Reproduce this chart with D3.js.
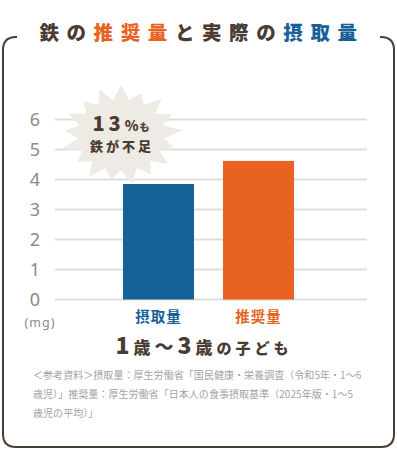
<!DOCTYPE html>
<html><head><meta charset="utf-8">
<script src="https://cdn.jsdelivr.net/npm/d3@7"></script>
<style>
html,body{margin:0;padding:0;background:#fff;}
svg{display:block;}
</style></head>
<body>
<svg id="chart" width="397" height="450"></svg>
<script>
const categories = ["摂取量", "推奨量"];
const values = [3.85, 4.62];
const barColors = ["#176199", "#e86221"];
const yTicks = [0, 1, 2, 3, 4, 5, 6];
const titleParts = [["鉄の", "#4a3b33"], ["推奨量", "#e86221"], ["と実際の", "#4a3b33"], ["摂取量", "#176199"]];
const footLines = [
  "＜参考資料＞摂取量：厚生労働省「国民健康・栄養調査（令和5年・1〜6",
  "歳児）」推奨量：厚生労働省「日本人の食事摂取基準（2025年版・1〜5",
  "歳児の平均）」"
];

const svg = d3.select("#chart");
const font = "'Noto Sans CJK JP', 'Noto Sans', sans-serif";
const dark = "#4a3b33";

// frame
const fx0 = 3, fx1 = 394, fy0 = 37, fy1 = 447, r = 13;
svg.append("path")
  .attr("d", `M17,${fy0} L${fx0 + r},${fy0} Q${fx0},${fy0} ${fx0},${fy0 + r} L${fx0},${fy1 - r} Q${fx0},${fy1} ${fx0 + r},${fy1} L${fx1 - r},${fy1} Q${fx1},${fy1} ${fx1},${fy1 - r} L${fx1},${fy0 + r} Q${fx1},${fy0} ${fx1 - r},${fy0} L380,${fy0}`)
  .attr("fill", "none").attr("stroke", dark).attr("stroke-width", 2);

// title
const title = svg.append("text").attr("x", 202).attr("y", 40)
  .attr("text-anchor", "middle").attr("font-family", font)
  .attr("font-weight", 900).attr("font-size", 19.5).attr("letter-spacing", 7.6);
titleParts.forEach(([t, c]) => title.append("tspan").attr("fill", c).text(t));

// scales
const y = d3.scaleLinear().domain([0, 6]).range([299.5, 119.5]);
const x = d3.scaleBand().domain(categories).range([108.5, 308.5]).paddingInner(0.29).paddingOuter(0.145);

// grid
svg.append("g").selectAll("line").data(yTicks).join("line")
  .attr("x1", 55).attr("x2", 367)
  .attr("y1", d => y(d)).attr("y2", d => y(d))
  .attr("stroke", "#dedede").attr("stroke-width", 2);

// y axis labels
svg.append("g").selectAll("text").data(yTicks).join("text")
  .attr("x", 35).attr("y", d => y(d)).attr("dy", "0.36em")
  .attr("text-anchor", "middle").attr("font-family", "'Noto Sans', sans-serif")
  .attr("font-size", 18).attr("fill", "#8a8a8a").text(d => d);

svg.append("text").attr("x", 40).attr("y", 327).attr("text-anchor", "middle")
  .attr("font-family", "'Noto Sans', sans-serif").attr("font-size", 12.5)
  .attr("fill", "#8a8a8a").attr("letter-spacing", 1).text("(mg)");

// burst
const cx = 121, cy = 135, nSp = 17;
const rOuter = [58, 52, 57, 54, 59, 52, 56, 54, 58, 53, 57, 52, 58, 54, 56, 53, 57];
const pts = [];
for (let i = 0; i < nSp; i++) {
  const a1 = (i / nSp) * 2 * Math.PI - Math.PI / 2;
  const a2 = ((i + 0.5) / nSp) * 2 * Math.PI - Math.PI / 2;
  pts.push([cx + Math.cos(a1) * rOuter[i] * 1.05, cy + Math.sin(a1) * rOuter[i] * 0.86]);
  pts.push([cx + Math.cos(a2) * 41 * 1.05, cy + Math.sin(a2) * 41 * 0.86]);
}
svg.append("path").attr("d", d3.line()(pts) + "Z").attr("fill", "#eeeae4");

const t1 = svg.append("text").attr("x", 121).attr("y", 131).attr("text-anchor", "middle")
  .attr("font-family", font).attr("font-weight", 900).attr("fill", dark);
t1.append("tspan").attr("font-size", 20).attr("letter-spacing", 4).text("13");
t1.append("tspan").attr("font-size", 14).text("%");
t1.append("tspan").attr("font-size", 10).attr("dx", 1).text("も");
svg.append("text").attr("x", 122).attr("y", 151).attr("text-anchor", "middle")
  .attr("font-family", font).attr("font-weight", 900).attr("fill", dark)
  .attr("font-size", 13).attr("letter-spacing", 3).text("鉄が不足");

// bars
svg.append("g").selectAll("rect").data(values).join("rect")
  .attr("x", (d, i) => x(categories[i])).attr("width", x.bandwidth())
  .attr("y", d => y(d)).attr("height", d => y(0) - y(d))
  .attr("fill", (d, i) => barColors[i]);

// category labels
svg.append("g").selectAll("text").data(categories).join("text")
  .attr("x", d => x(d) + x.bandwidth() / 2).attr("y", 322)
  .attr("text-anchor", "middle").attr("font-family", font).attr("font-weight", 700)
  .attr("font-size", 14.5).attr("letter-spacing", 1)
  .attr("fill", (d, i) => barColors[i]).text(d => d);

// subtitle
const st = svg.append("text").attr("x", 198).attr("y", 354).attr("text-anchor", "middle")
  .attr("font-family", font).attr("font-weight", 900).attr("fill", dark);
[["1", 23], ["歳", 17], ["〜", 19], ["3", 23], ["歳", 17], ["の", 15], ["子", 15], ["ど", 15], ["も", 15]]
  .forEach(([t, s]) => st.append("tspan").attr("font-size", s).attr("dx", 4).text(t));

// footnote
svg.append("g").selectAll("text").data(footLines).join("text")
  .attr("x", 33).attr("y", (d, i) => 379 + i * 19)
  .attr("font-family", font).attr("font-size", 10).attr("letter-spacing", 0.05)
  .attr("fill", "#a3a3a3").text(d => d);
</script>
</body></html>
